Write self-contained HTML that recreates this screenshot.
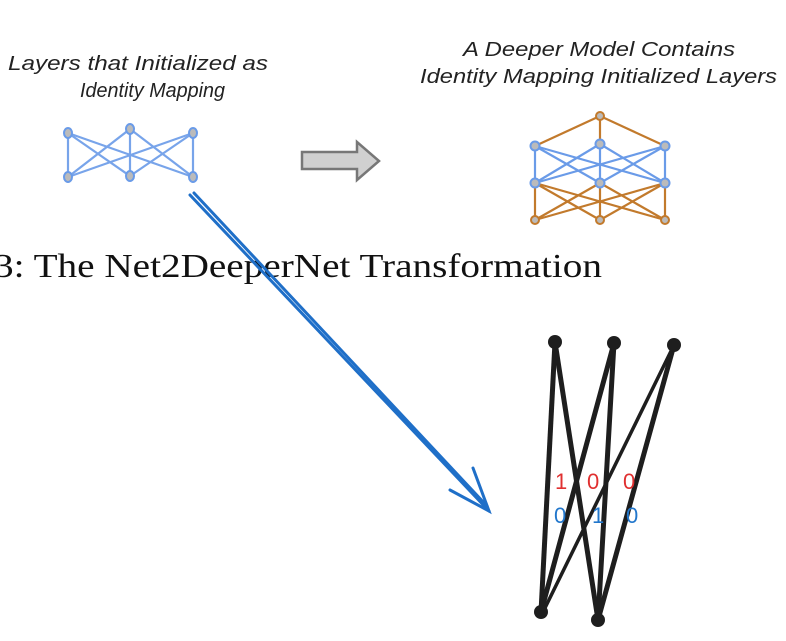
<!DOCTYPE html>
<html><head><style>
body{margin:0;background:#fff;width:786px;height:641px;overflow:hidden}
svg{display:block}
</style></head><body>
<svg width="786" height="641" viewBox="0 0 786 641" xmlns="http://www.w3.org/2000/svg">
<g font-family="Liberation Sans, sans-serif" font-style="italic" font-size="20" fill="#222">
<text x="8" y="70" textLength="260" lengthAdjust="spacingAndGlyphs">Layers  that Initialized as</text>
<text x="80" y="97" textLength="145" lengthAdjust="spacingAndGlyphs">Identity Mapping</text>
<text x="463" y="56" textLength="272" lengthAdjust="spacingAndGlyphs">A Deeper Model Contains</text>
<text x="420" y="83" textLength="357" lengthAdjust="spacingAndGlyphs">Identity Mapping Initialized Layers</text>
</g>
<g stroke="#6a9be8" stroke-width="2.2" opacity="0.9">
<line x1="68" y1="133" x2="68" y2="177"/><line x1="68" y1="133" x2="130" y2="176"/><line x1="68" y1="133" x2="193" y2="177"/>
<line x1="130" y1="129" x2="68" y2="177"/><line x1="130" y1="129" x2="130" y2="176"/><line x1="130" y1="129" x2="193" y2="177"/>
<line x1="193" y1="133" x2="68" y2="177"/><line x1="193" y1="133" x2="130" y2="176"/><line x1="193" y1="133" x2="193" y2="177"/>
</g>
<g fill="#bbb" stroke="#6a9be8" stroke-width="2">
<ellipse cx="68" cy="133" rx="4" ry="5"/><ellipse cx="130" cy="129" rx="4" ry="5"/><ellipse cx="193" cy="133" rx="4" ry="5"/>
<ellipse cx="68" cy="177" rx="4" ry="5"/><ellipse cx="130" cy="176" rx="4" ry="5"/><ellipse cx="193" cy="177" rx="4" ry="5"/>
</g>
<path d="M302 152 H357 V142 L379 161 L357 180 V169 H302 Z" fill="#d0d0d0" stroke="#777" stroke-width="2.5"/>
<g stroke="#c27a2c" stroke-width="2.2">
<line x1="600" y1="116" x2="535" y2="146"/><line x1="600" y1="116" x2="600" y2="144"/><line x1="600" y1="116" x2="665" y2="146"/>
<line x1="535" y1="183" x2="535" y2="220"/><line x1="535" y1="183" x2="600" y2="220"/><line x1="535" y1="183" x2="665" y2="220"/>
<line x1="600" y1="183" x2="535" y2="220"/><line x1="600" y1="183" x2="600" y2="220"/><line x1="600" y1="183" x2="665" y2="220"/>
<line x1="665" y1="183" x2="535" y2="220"/><line x1="665" y1="183" x2="600" y2="220"/><line x1="665" y1="183" x2="665" y2="220"/>
</g>
<g stroke="#6a9be8" stroke-width="2.2">
<line x1="535" y1="146" x2="535" y2="183"/><line x1="535" y1="146" x2="600" y2="183"/><line x1="535" y1="146" x2="665" y2="183"/>
<line x1="600" y1="144" x2="535" y2="183"/><line x1="600" y1="144" x2="600" y2="183"/><line x1="600" y1="144" x2="665" y2="183"/>
<line x1="665" y1="146" x2="535" y2="183"/><line x1="665" y1="146" x2="600" y2="183"/><line x1="665" y1="146" x2="665" y2="183"/>
</g>
<g fill="#bbb" stroke-width="2">
<circle cx="600" cy="116" r="4" stroke="#c27a2c"/>
<circle cx="535" cy="146" r="4.5" stroke="#6a9be8"/><circle cx="600" cy="144" r="4.5" stroke="#6a9be8"/><circle cx="665" cy="146" r="4.5" stroke="#6a9be8"/>
<circle cx="535" cy="183" r="4.5" stroke="#6a9be8"/><circle cx="600" cy="183" r="4.5" stroke="#6a9be8"/><circle cx="665" cy="183" r="4.5" stroke="#6a9be8"/>
<circle cx="535" cy="220" r="4" stroke="#c27a2c"/><circle cx="600" cy="220" r="4" stroke="#c27a2c"/><circle cx="665" cy="220" r="4" stroke="#c27a2c"/>
</g>
<text x="-6" y="277" font-family="Liberation Serif, serif" font-size="34" fill="#111" textLength="608" lengthAdjust="spacingAndGlyphs">3: The Net2DeeperNet Transformation</text>
<g stroke="#1f6fc8" stroke-width="3" fill="none" stroke-linecap="round">
<line x1="190" y1="195" x2="489" y2="511"/>
<line x1="194" y1="193" x2="487" y2="506"/>
<path d="M450 490 L489 511 L473 468"/>
</g>
<g stroke="#1e1e1e" stroke-width="5" stroke-linecap="round">
<line x1="555" y1="342" x2="541" y2="612"/><line x1="555" y1="342" x2="598" y2="620"/>
<line x1="614" y1="343" x2="541" y2="612"/><line x1="614" y1="343" x2="598" y2="620"/>
<line x1="674" y1="345" x2="598" y2="620"/>
<line x1="674" y1="345" x2="543" y2="612" stroke-width="3.5"/>
</g>
<g fill="#1e1e1e">
<circle cx="555" cy="342" r="7"/><circle cx="614" cy="343" r="7"/><circle cx="674" cy="345" r="7"/>
<circle cx="541" cy="612" r="7"/><circle cx="598" cy="620" r="7"/>
</g>
<g font-family="Liberation Sans, sans-serif" font-size="22">
<text x="555" y="489" fill="#e03030">1</text><text x="587" y="489" fill="#e03030">0</text><text x="623" y="489" fill="#e03030">0</text>
<text x="554" y="523" fill="#2277cc">0</text><text x="592" y="523" fill="#2277cc">1</text><text x="626" y="523" fill="#2277cc">0</text>
</g>
</svg>
</body></html>
